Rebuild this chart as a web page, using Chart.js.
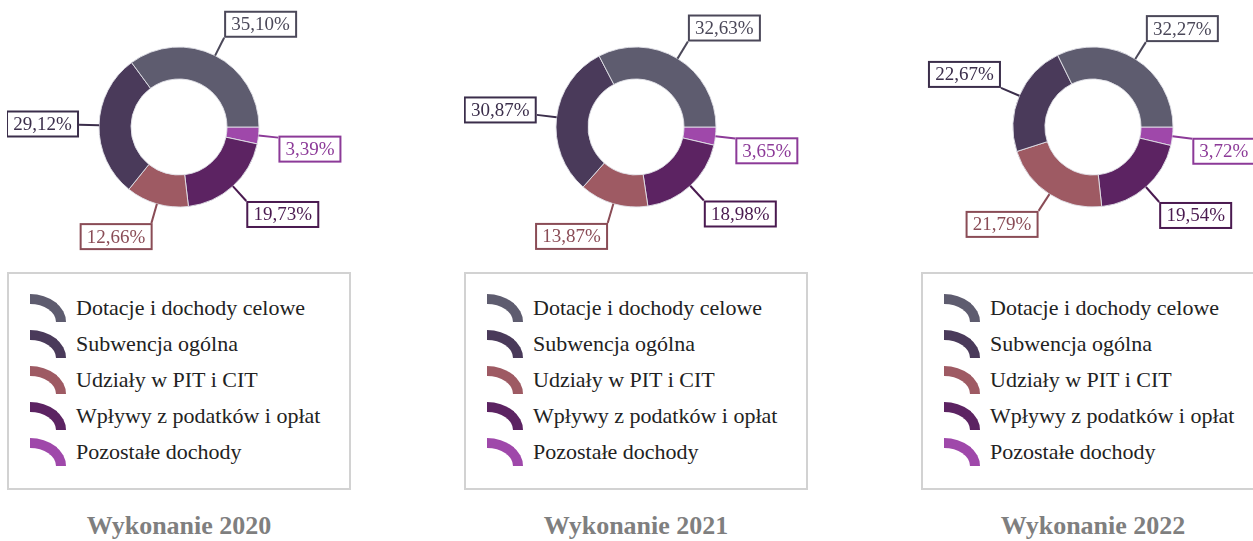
<!DOCTYPE html>
<html lang="pl">
<head>
<meta charset="utf-8">
<script src="https://cdn.jsdelivr.net/npm/chart.js"></script>
<style>
    body { margin: 0; background: #fff; width: 1253px; height: 541px; overflow: hidden; font-family: "Liberation Serif", "Times New Roman", serif; }
    .panel { position: absolute; top: 0; width: 344px; height: 541px; }
    .panel canvas { position: absolute; left: 0; top: 0; }
    .legend { position: absolute; left: 0; top: 272px; width: 344px; height: 218px; box-sizing: border-box; border: 2px solid #d2d2d2; padding-top: 16px; }
    .legend .row { display: flex; align-items: center; height: 36px; }
    .legend .icon { width: 36px; height: 28px; box-sizing: border-box; margin-left: 21px; margin-right: 10px;
        border-top: 10px solid; border-right: 10px solid; border-top-right-radius: 36px 28px; }
    .legend .txt { font-size: 22px; color: #222; }
    .title { position: absolute; left: 0; width: 344px; top: 511px; text-align: center; font-weight: bold; font-size: 26px; color: #7f7f7f; }
</style>
</head>
<body>
<script>
// Struktura dochodów - wykonanie 2020-2022

const categories = ['Dotacje i dochody celowe', 'Subwencja ogólna', 'Udziały w PIT i CIT', 'Wpływy z podatków i opłat', 'Pozostałe dochody'];
const years = ['2020', '2021', '2022'];
const values2020 = [35.10, 29.12, 12.66, 19.73, 3.39];
const values2021 = [32.63, 30.87, 13.87, 18.98, 3.65];
const values2022 = [32.27, 22.67, 21.79, 19.54, 3.72];

const sliceColors = ['#5e5c6f', '#4a3a5a', '#9e5a63', '#5c2362', '#9f48aa'];
const labelColors = ['#4b4859', '#3b2e4b', '#8a4c56', '#4a1a50', '#8c3a98'];
const panelLeft = [7, 464, 921];
const LABEL_FONT = '19px "Liberation Serif"';

function fmt(v) {
    return v.toFixed(2).replace('.', ',') + '%';
}
function clamp(v) {
    return Math.max(-1, Math.min(1, v));
}

// labels in boxes with leader lines (Excel style)
const boxLabels = {
    id: 'boxLabels',
    afterDatasetsDraw(chart) {
        const ctx = chart.ctx;
        const meta = chart.getDatasetMeta(0);
        const ds = chart.data.datasets[0];
        ctx.save();
        ctx.font = LABEL_FONT;
        ctx.textAlign = 'center';
        ctx.textBaseline = 'middle';
        meta.data.forEach((arc, i) => {
            const p = arc.getProps(['x', 'y', 'startAngle', 'endAngle', 'outerRadius'], true);
            const mid = (p.startAngle + p.endAngle) / 2;
            const c = Math.cos(mid), s = Math.sin(mid);
            const x0 = p.x + c * p.outerRadius, y0 = p.y + s * p.outerRadius;
            const ex = p.x + c * (p.outerRadius + 20), ey = p.y + s * (p.outerRadius + 20);
            const text = fmt(ds.data[i]);
            const w = Math.round(ctx.measureText(text).width + 14), h = 27;
            // right side boxes hang below/above sooner than left side ones
            const ky = c > 0 ? 8 : 3;
            const bx = ex + clamp(c * 3.5) * w / 2 - w / 2;
            const by = ey + clamp(s * ky) * h / 2 - h / 2;
            const col = ds.labelColors[i];
            ctx.strokeStyle = col;
            ctx.lineWidth = 2;
            ctx.beginPath();
            ctx.moveTo(x0, y0);
            ctx.lineTo(ex, ey);
            ctx.stroke();
            ctx.fillStyle = '#fff';
            ctx.fillRect(bx, by, w, h);
            ctx.strokeRect(bx + 1, by + 1, w - 2, h - 2);
            ctx.fillStyle = col;
            ctx.fillText(text, bx + w / 2, by + h / 2 + 1);
        });
        ctx.restore();
    }
};

function makePanel(idx, values) {
    const panel = document.createElement('div');
    panel.className = 'panel';
    panel.style.left = panelLeft[idx] + 'px';
    const canvas = document.createElement('canvas');
    canvas.width = 344;
    canvas.height = 262;
    panel.appendChild(canvas);

    // legend box
    const legend = document.createElement('div');
    legend.className = 'legend';
    legend.innerHTML = categories.map((c, i) =>
        `<div class="row"><div class="icon" style="border-color:${sliceColors[i]}"></div><span class="txt">${c}</span></div>`
    ).join('');
    panel.appendChild(legend);

    const title = document.createElement('div');
    title.className = 'title';
    title.textContent = 'Wykonanie ' + years[idx];
    panel.appendChild(title);
    document.body.appendChild(panel);

    // slices go clockwise from 3 o'clock in reverse legend order
    new Chart(canvas.getContext('2d'), {
        type: 'doughnut',
        data: {
            labels: categories.slice().reverse(),
            datasets: [{
                data: values.slice().reverse(),
                backgroundColor: sliceColors.slice().reverse(),
                labelColors: labelColors.slice().reverse(),
                borderColor: 'rgba(225,225,232,0.9)',
                borderWidth: 1
            }]
        },
        options: {
            responsive: false,
            animation: false,
            rotation: 90,
            cutout: '60%',
            radius: 80,
            layout: { padding: { left: 92, right: 92, top: 47, bottom: 55 } },
            plugins: { legend: { display: false }, tooltip: { enabled: false } }
        },
        plugins: [boxLabels]
    });
}

makePanel(0, values2020);
makePanel(1, values2021);
makePanel(2, values2022);
</script>
</body>
</html>
